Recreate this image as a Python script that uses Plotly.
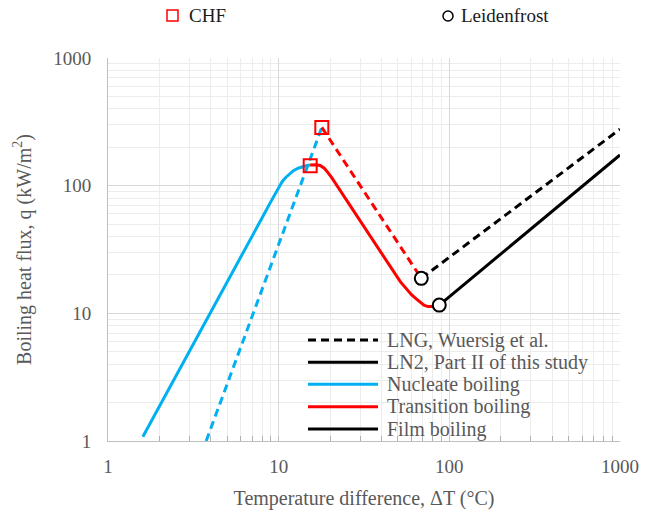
import plotly.graph_objects as go

# ---- data ----
nuc_ln2_x = [1.6, 3.0, 5.0, 8.0, 9.0, 9.5, 10.0, 10.5, 11.0, 11.7, 12.2, 13.0, 13.8, 14.6, 15.3]
nuc_ln2_y = [1.08, 5.0, 17.7, 56, 75, 86, 98, 108, 116, 125, 131, 137, 141, 144, 145]
trans_ln2_x = [15.3, 16.5, 17.5, 18.5, 19.5, 20.5, 51.6, 56.0, 60.0, 64.0, 67.6, 71.0, 75.0, 80.0, 87.3]
trans_ln2_y = [145, 146, 144, 137, 126, 115, 17.7, 15.4, 14.0, 13.0, 12.3, 11.6, 11.3, 11.3, 11.6]
film_ln2_x = [87.3, 1000]
film_ln2_y = [11.6, 174]

nuc_lng_x = [3.76, 17.9]
nuc_lng_y = [1.0, 286]
trans_lng_x = [17.9, 68.5]
trans_lng_y = [286, 18.8]
film_lng_x = [68.5, 1000]
film_lng_y = [18.8, 277]

chf_x = [15.3, 17.9]
chf_y = [143, 286]
leid_x = [68.5, 87.3]
leid_y = [18.8, 11.6]

x_ticks = [1, 10, 100, 1000]
y_ticks = [1, 10, 100, 1000]

legend_labels = ["LNG, Wuersig et al.", "LN2, Part II of this study",
                 "Nucleate boiling", "Transition boiling", "Film boiling"]

BLUE = "#00b0f0"
RED = "#ff0000"
BLACK = "#000000"
TXT = "#595959"
FONT = "Liberation Serif"
DASH = "8px,5px"

fig = go.Figure()

def line(x, y, color, dash="solid"):
    fig.add_trace(go.Scatter(x=x, y=y, mode="lines", showlegend=False,
                             line=dict(color=color, width=3, dash=dash),
                             hoverinfo="skip"))

line(nuc_lng_x, nuc_lng_y, BLUE, DASH)
line(trans_lng_x, trans_lng_y, RED, DASH)
line(film_lng_x, film_lng_y, BLACK, DASH)
line(nuc_ln2_x, nuc_ln2_y, BLUE)
line(trans_ln2_x, trans_ln2_y, RED)
line(film_ln2_x, film_ln2_y, BLACK)

fig.add_trace(go.Scatter(x=chf_x, y=chf_y, mode="markers", showlegend=False,
                         marker=dict(symbol="square-open", size=13,
                                     color=RED, line=dict(width=2, color=RED))))
fig.add_trace(go.Scatter(x=leid_x, y=leid_y, mode="markers", showlegend=False,
                         marker=dict(symbol="circle", size=13, color="white",
                                     line=dict(width=2, color=BLACK))))

L, R, T, B = 108, 31, 58, 70
W, H = 651, 511
pw, ph = W - L - R, H - T - B

def px(xp):
    return (xp - L) / pw

def py(yp):
    return (H - B - yp) / ph

shapes = []
annotations = []

# top legend
shapes.append(dict(type="rect", xref="paper", yref="paper",
                   x0=px(167), x1=px(178), y0=py(21), y1=py(10),
                   line=dict(color=RED, width=1.5), fillcolor="rgba(0,0,0,0)"))
annotations.append(dict(xref="paper", yref="paper", x=px(187), y=py(16),
                        text="CHF", showarrow=False, xanchor="left",
                        yanchor="middle", font=dict(family=FONT, size=19, color="#1a1a1a")))
shapes.append(dict(type="circle", xref="paper", yref="paper",
                   x0=px(443), x1=px(453), y0=py(21), y1=py(11),
                   line=dict(color=BLACK, width=1.5), fillcolor="white"))
annotations.append(dict(xref="paper", yref="paper", x=px(459), y=py(16),
                        text="Leidenfrost", showarrow=False, xanchor="left",
                        yanchor="middle", font=dict(family=FONT, size=19, color="#1a1a1a")))

# inner legend
rows = [340, 362.3, 384.3, 406.7, 429]
styles = [(BLACK, "dash"), (BLACK, "solid"), (BLUE, "solid"), (RED, "solid"), (BLACK, "solid")]
for yy, (c, d), lab in zip(rows, styles, legend_labels):
    shapes.append(dict(type="line", xref="paper", yref="paper",
                       x0=px(308), x1=px(378), y0=py(yy), y1=py(yy),
                       line=dict(color=c, width=3, dash=DASH if d == "dash" else "solid")))
    annotations.append(dict(xref="paper", yref="paper", x=px(385), y=py(yy),
                            text=lab, showarrow=False, xanchor="left",
                            yanchor="middle", font=dict(family=FONT, size=20, color=TXT)))

fig.update_layout(
    width=W, height=H, margin=dict(l=L, r=R, t=T, b=B),
    paper_bgcolor="white", plot_bgcolor="white",
    font=dict(family=FONT, size=19, color=TXT),
    shapes=shapes, annotations=annotations, showlegend=False,
)
fig.update_xaxes(type="log", range=[0, 3], tickvals=x_ticks,
                 ticktext=[str(v) for v in x_ticks], automargin=False,
                 showline=True, linecolor="#bfbfbf", linewidth=1,
                 showgrid=True, gridcolor="#d9d9d9", gridwidth=1,
                 ticks="inside", ticklen=5, tickcolor="#bfbfbf",
                 tickfont=dict(size=19, color=TXT), ticklabelstandoff=8,
                 minor=dict(showgrid=True, gridcolor="#ececec", dtick="D1",
                            ticks="inside", ticklen=5, tickcolor="#b0b0b0"),
                 title=dict(text="Temperature difference, ΔT (°C)",
                            font=dict(size=20, color=TXT), standoff=15),
                 zeroline=False)
fig.update_yaxes(type="log", range=[0, 3], tickvals=y_ticks,
                 ticktext=[str(v) for v in y_ticks], automargin=False,
                 showline=True, linecolor="#bfbfbf", linewidth=1,
                 showgrid=True, gridcolor="#d9d9d9", gridwidth=1,
                 ticks="", tickfont=dict(size=19, color=TXT), ticklabelstandoff=12,
                 minor=dict(showgrid=True, gridcolor="#ececec", dtick="D1"),
                 title=dict(text="Boiling heat flux, q (kW/m<sup>2</sup>)",
                            font=dict(size=20, color=TXT), standoff=16),
                 zeroline=False)

fig.write_html("out.html")
